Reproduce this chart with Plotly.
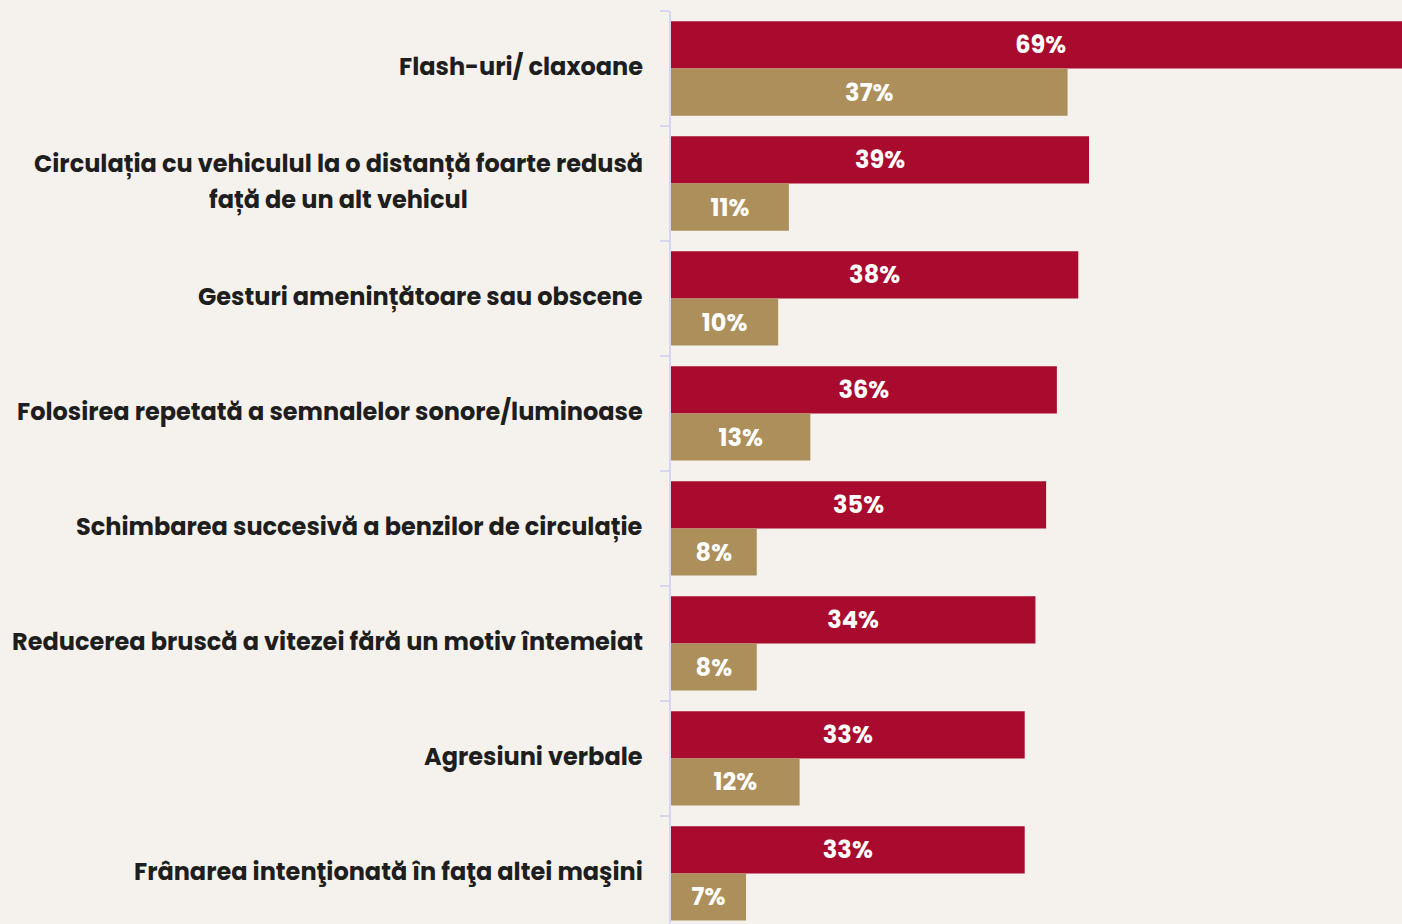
import plotly.graph_objects as go

categories = [
    "Flash-uri/ claxoane",
    "Circulația cu vehiculul la o distanță foarte redusă<br>față de un alt vehicul",
    "Gesturi amenințătoare sau obscene",
    "Folosirea repetată a semnalelor sonore/luminoase",
    "Schimbarea succesivă a benzilor de circulație",
    "Reducerea bruscă a vitezei fără un motiv întemeiat",
    "Agresiuni verbale",
    "Frânarea intenţionată în faţa altei maşini",
]
series_red = [69, 39, 38, 36, 35, 34, 33, 33]
series_tan = [37, 11, 10, 13, 8, 8, 12, 7]

RED = "#A90B2E"
TAN = "#AD8F5C"
BG = "#F5F2ED"
FONT = "Poppins, Inter, sans-serif"

idx = list(range(len(categories)))

fig = go.Figure()
for vals, color in [(series_red, RED), (series_tan, TAN)]:
    fig.add_trace(go.Bar(
        y=idx, x=vals, orientation="h",
        marker=dict(color=color, line=dict(width=0)),
        text=[f"{v}%" for v in vals], textposition="inside",
        insidetextanchor="middle", textangle=0,
        textfont=dict(color="white", size=24, family=FONT, weight="bold"),
        cliponaxis=True, showlegend=False, hoverinfo="skip",
    ))

# category labels as annotations, one per line so the line spacing can be set
LINE_GAP = 36
for i, lab in enumerate(categories):
    lines = lab.split("<br>")
    n = len(lines)
    for k, line in enumerate(lines):
        fig.add_annotation(
            x=0, xref="paper", y=i, yref="y", text=line, showarrow=False,
            xanchor="right" if k == 0 else "center", align="center",
            xshift=-26, yshift=2 + ((n - 1) / 2 - k) * LINE_GAP,
            font=dict(size=24, color="#1E1E1E", family=FONT, weight="bold"),
            name=f"lab{i}_{k}",
        )

fig.update_layout(
    width=1402, height=924,
    paper_bgcolor=BG, plot_bgcolor=BG,
    barmode="group", bargap=0.18, bargroupgap=0,
    margin=dict(l=671, r=0, t=11, b=0),
)
fig.update_xaxes(range=[0, 68.2], visible=False, showgrid=False, zeroline=False)
fig.update_yaxes(
    type="linear", range=[7.44, -0.5], showgrid=False, zeroline=False,
    showticklabels=False, tickmode="array",
    tickvals=[i - 0.5 for i in range(len(categories) + 1)],
    ticks="outside", ticklen=9, tickcolor="#D6D6F0", tickwidth=2,
    showline=True, linecolor="#D6D6F0", linewidth=2,
)

# centre the continuation lines under their first line
post = """
document.body.style.margin='0';
var gd = document.querySelector('.plotly-graph-div');
function centreLines(){
  var anns = gd.querySelectorAll('.annotation');
  var lay = gd.layout.annotations;
  for (var j = 0; j < lay.length; j++) {
    var nm = lay[j].name || '';
    var m = nm.match(/^lab(\\d+)_(\\d+)$/);
    if (!m || m[2] === '0') continue;
    var first = -1;
    for (var q = 0; q < lay.length; q++) { if (lay[q].name === 'lab' + m[1] + '_0') first = q; }
    var fb = anns[first].getBoundingClientRect();
    var cb = anns[j].getBoundingClientRect();
    var shift = (fb.left + fb.right) / 2 - (cb.left + cb.right) / 2;
    anns[j].setAttribute('transform', 'translate(' + shift + ',0)');
  }
}
centreLines();
"""

fig.write_html("out.html", post_script=post, config={"displayModeBar": False})
